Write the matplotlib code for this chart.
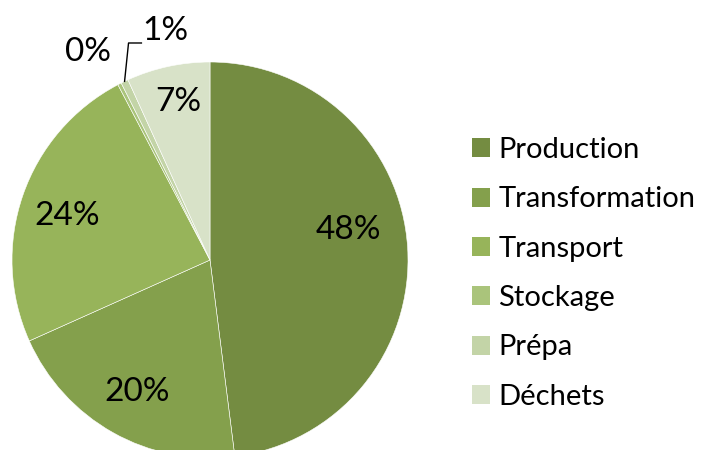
import numpy as np
import matplotlib
matplotlib.use("Agg")
import matplotlib.pyplot as plt

categories = ["Production", "Transformation", "Transport", "Stockage", "Prépa", "Déchets"]
values = [48.0, 20.3, 24.0, 0.3, 0.6, 6.8]
pct_labels = ["48%", "20%", "24%", "0%", "1%", "7%"]
colors = ["#748C41", "#84A04C", "#97B45A", "#AAC47B", "#C3D4A7", "#D8E2C8"]
# label positions (data coords, pie radius = 1)
label_pos = [(0.697, 0.152), (-0.369, -0.667), (-0.722, 0.222),
             (-0.616, 1.051), (-0.227, 1.157), (-0.162, 0.798)]

plt.rcParams['font.family'] = ['Lato', 'DejaVu Sans']

W, H = 702, 450
fig = plt.figure(figsize=(W / 100, H / 100), dpi=100)
cx, cy, R = 210, 260, 198
ax = fig.add_axes([(cx - R) / W, (H - cy - R) / H, 2 * R / W, 2 * R / H])
wedges, _ = ax.pie(values, colors=colors, startangle=90, counterclock=False,
                   radius=1, wedgeprops=dict(edgecolor="white", linewidth=0.4))
ax.set_xlim(-1, 1)
ax.set_ylim(-1, 1)
ax.set_aspect("equal")
ax.axis("off")

for (x, y), t in zip(label_pos, pct_labels):
    ax.text(x, y, t, ha="center", va="center", fontsize=24, color="black")

# leader line for Prépa
w = wedges[4]
mid = np.deg2rad((w.theta1 + w.theta2) / 2)
x0, y0 = np.cos(mid), np.sin(mid)
ax.plot([x0, x0 + 0.02, x0 + 0.085], [y0, 1.096, 1.096], color="black",
        lw=1.0, clip_on=False)

leg = fig.legend(wedges, categories, loc="upper left",
                 bbox_to_anchor=(472 / W, 1 - 137 / H), frameon=False,
                 fontsize=21, handlelength=0.62, handleheight=0.62,
                 handletextpad=0.28, labelspacing=0.80, borderaxespad=0,
                 borderpad=0)
for h in leg.legend_handles:
    h.set_edgecolor("none")

fig.savefig("out.png", dpi=100)
